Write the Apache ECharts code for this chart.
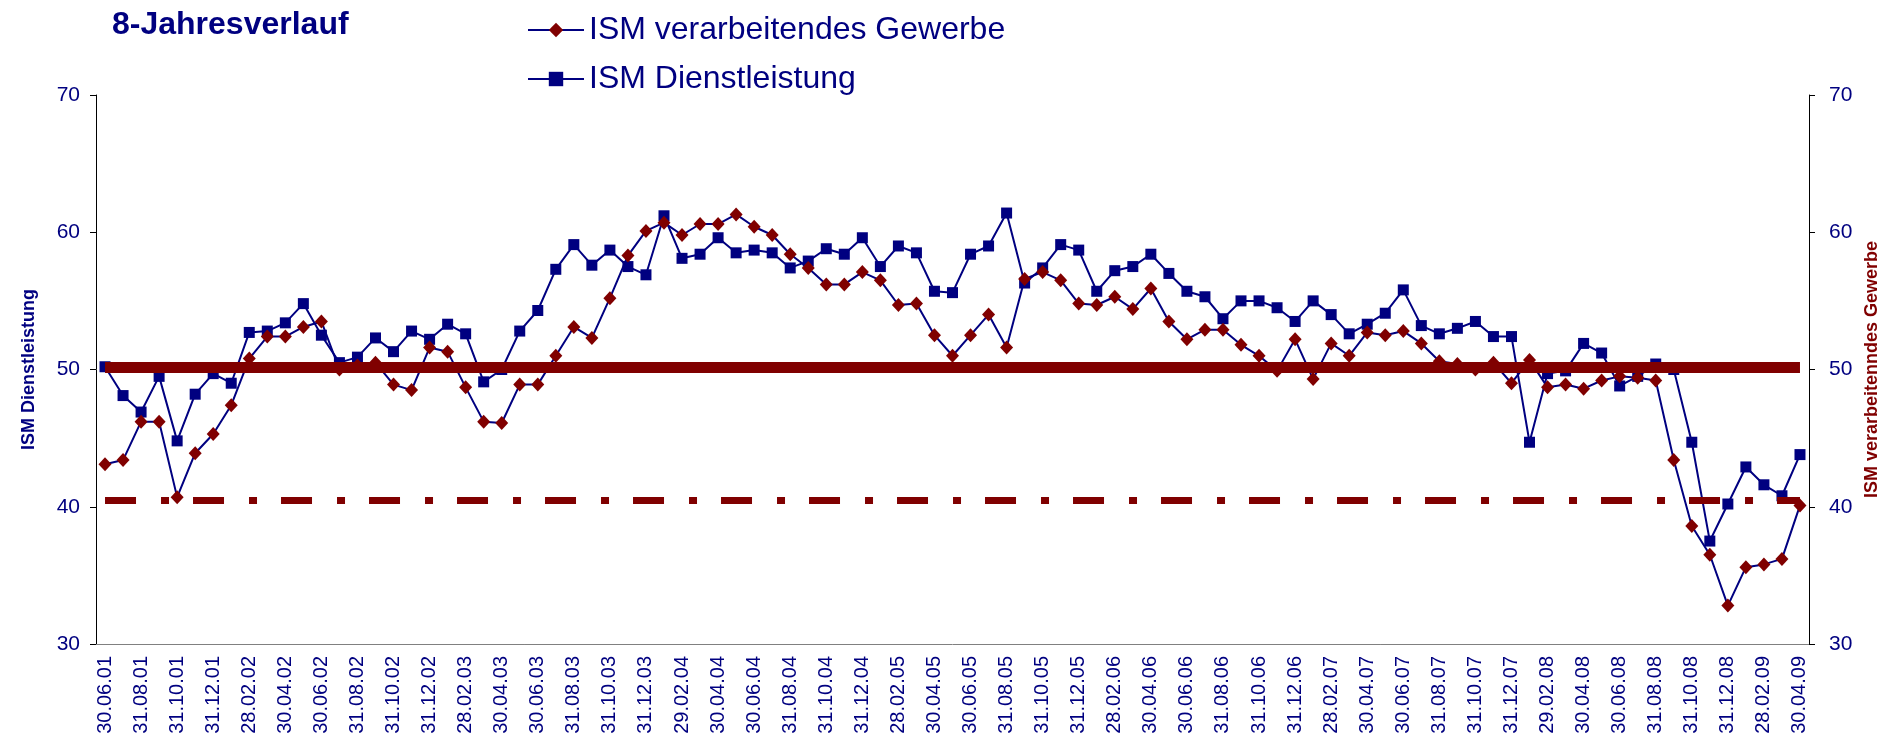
<!DOCTYPE html>
<html>
<head>
<meta charset="utf-8">
<script src="https://cdn.jsdelivr.net/npm/echarts@6/dist/echarts.min.js"></script>
<style>
  html, body { margin: 0; padding: 0; background: #fff; }
  #chart { width: 1895px; height: 748px; }
</style>
</head>
<body>
<div id="chart"></div>
<script>
// Monatsende-Daten 06/2001 - 04/2009
const months = [
  "30.06.01","31.07.01","31.08.01","30.09.01","31.10.01","30.11.01","31.12.01",
  "31.01.02","28.02.02","31.03.02","30.04.02","31.05.02","30.06.02","31.07.02","31.08.02","30.09.02","31.10.02","30.11.02","31.12.02",
  "31.01.03","28.02.03","31.03.03","30.04.03","31.05.03","30.06.03","31.07.03","31.08.03","30.09.03","31.10.03","30.11.03","31.12.03",
  "31.01.04","29.02.04","31.03.04","30.04.04","31.05.04","30.06.04","31.07.04","31.08.04","30.09.04","31.10.04","30.11.04","31.12.04",
  "31.01.05","28.02.05","31.03.05","30.04.05","31.05.05","30.06.05","31.07.05","31.08.05","30.09.05","31.10.05","30.11.05","31.12.05",
  "31.01.06","28.02.06","31.03.06","30.04.06","31.05.06","30.06.06","31.07.06","31.08.06","30.09.06","31.10.06","30.11.06","31.12.06",
  "31.01.07","28.02.07","31.03.07","30.04.07","31.05.07","30.06.07","31.07.07","31.08.07","30.09.07","31.10.07","30.11.07","31.12.07",
  "31.01.08","29.02.08","31.03.08","30.04.08","31.05.08","30.06.08","31.07.08","31.08.08","30.09.08","31.10.08","30.11.08","31.12.08",
  "31.01.09","28.02.09","31.03.09","30.04.09"
];

const ismManufacturing = [
  43.1, 43.4, 46.2, 46.2, 40.7, 43.9, 45.3,
  47.4, 50.8, 52.4, 52.4, 53.1, 53.5, 50.0, 50.3, 50.5, 48.9, 48.5, 51.6,
  51.3, 48.7, 46.2, 46.1, 48.9, 48.9, 51.0, 53.1, 52.3, 55.2, 58.3, 60.1,
  60.7, 59.8, 60.6, 60.6, 61.3, 60.4, 59.8, 58.4, 57.4, 56.2, 56.2, 57.1,
  56.5, 54.7, 54.8, 52.5, 51.0, 52.5, 54.0, 51.6, 56.6, 57.1, 56.5, 54.8,
  54.7, 55.3, 54.4, 55.9, 53.5, 52.2, 52.9, 52.9, 51.8, 51.0, 49.9, 52.2,
  49.3, 51.9, 51.0, 52.7, 52.5, 52.8, 51.9, 50.6, 50.4, 50.0, 50.5, 49.0,
  50.7, 48.7, 48.9, 48.6, 49.2, 49.5, 49.4, 49.2, 43.4, 38.6, 36.5, 32.8,
  35.6, 35.8, 36.2, 40.1
];

const ismServices = [
  50.2, 48.1, 46.9, 49.5, 44.8, 48.2, 49.7,
  49.0, 52.7, 52.8, 53.4, 54.8, 52.5, 50.5, 50.9, 52.3, 51.3, 52.8, 52.2,
  53.3, 52.6, 49.1, 50.0, 52.8, 54.3, 57.3, 59.1, 57.6, 58.7, 57.5, 56.9,
  61.2, 58.1, 58.4, 59.6, 58.5, 58.7, 58.5, 57.4, 57.9, 58.8, 58.4, 59.6,
  57.5, 59.0, 58.5, 55.7, 55.6, 58.4, 59.0, 61.4, 56.3, 57.4, 59.1, 58.7,
  55.7, 57.2, 57.5, 58.4, 57.0, 55.7, 55.3, 53.7, 55.0, 55.0, 54.5, 53.5,
  55.0, 54.0, 52.6, 53.3, 54.1, 55.8, 53.2, 52.6, 53.0, 53.5, 52.4, 52.4,
  44.7, 49.7, 49.9, 51.9, 51.2, 48.8, 49.5, 50.4, 50.0, 44.7, 37.5, 40.2,
  42.9, 41.6, 40.8, 43.8
];

// Referenzlinien
const levelSolid = 50.2;
const levelDashDot = 40.5;

const navy = "#000080";
const maroon = "#800000";
const font = "Liberation Sans, Arial, sans-serif";

const last = months.length - 1;

const option = {
  backgroundColor: "#fff",
  animation: false,
  title: {
    text: "8-Jahresverlauf",
    left: 107,
    top: 4,
    textStyle: { color: navy, fontSize: 32, fontWeight: "bold", fontFamily: font }
  },
  legend: {
    orient: "vertical",
    left: 522,
    top: 9,
    itemWidth: 56,
    itemHeight: 18,
    itemGap: 17,
    textStyle: { color: navy, fontSize: 32, fontFamily: font, lineHeight: 32 },
    data: ["ISM verarbeitendes Gewerbe", "ISM Dienstleistung"]
  },
  grid: { left: 96, right: 86, top: 95, bottom: 104 },
  xAxis: {
    type: "category",
    data: months,
    boundaryGap: true,
    axisLine: { lineStyle: { color: "#808080", width: 1 } },
    axisTick: { interval: 0, length: 6, lineStyle: { color: "#808080" } },
    axisLabel: {
      interval: 1,
      rotate: 90,
      margin: 12,
      color: navy,
      fontSize: 20,
      fontFamily: font
    },
    splitLine: { show: false }
  },
  yAxis: [
    {
      type: "value",
      min: 30, max: 70, interval: 10,
      position: "left",
      name: "ISM Dienstleistung",
      nameLocation: "middle",
      nameRotate: 90,
      nameGap: 58,
      nameTextStyle: { color: navy, fontSize: 18, fontWeight: "bold", fontFamily: font },
      axisLine: { show: true, lineStyle: { color: "#000", width: 1 } },
      axisTick: { show: true, length: 6, lineStyle: { color: "#000" } },
      axisLabel: { color: navy, fontSize: 21, fontFamily: font, margin: 16 },
      splitLine: { show: false }
    },
    {
      type: "value",
      min: 30, max: 70, interval: 10,
      position: "right",
      name: "ISM verarbeitenndes Gewerbe",
      nameLocation: "middle",
      nameRotate: 90,
      nameGap: 54,
      nameTextStyle: { color: maroon, fontSize: 18, fontWeight: "bold", fontFamily: font },
      axisLine: { show: true, lineStyle: { color: "#000", width: 1 } },
      axisTick: { show: true, length: 6, lineStyle: { color: "#000" } },
      axisLabel: { color: navy, fontSize: 21, fontFamily: font, margin: 20 },
      splitLine: { show: false }
    }
  ],
  series: [
    {
      name: "ISM verarbeitendes Gewerbe",
      type: "line",
      yAxisIndex: 1,
      data: ismManufacturing,
      symbol: "diamond",
      symbolSize: [13, 14],
      showAllSymbol: true,
      itemStyle: { color: maroon },
      lineStyle: { color: navy, width: 2 },
      z: 3,
      markLine: {
        silent: true,
        symbol: "none",
        z: 5,
        label: { show: false },
        data: [
          [
            { coord: [0, levelSolid], lineStyle: { color: maroon, width: 11, type: "solid", cap: "butt" } },
            { coord: [last, levelSolid] }
          ],
          [
            { coord: [0, levelDashDot], lineStyle: { color: maroon, width: 7, type: [31, 25, 8, 24], cap: "butt" } },
            { coord: [last, levelDashDot] }
          ]
        ]
      }
    },
    {
      name: "ISM Dienstleistung",
      type: "line",
      yAxisIndex: 0,
      data: ismServices,
      symbol: "rect",
      symbolSize: 11,
      showAllSymbol: true,
      itemStyle: { color: navy },
      lineStyle: { color: navy, width: 2 },
      z: 2
    }
  ]
};

const chart = echarts.init(document.getElementById("chart"));
chart.setOption(option);
</script>
</body>
</html>
